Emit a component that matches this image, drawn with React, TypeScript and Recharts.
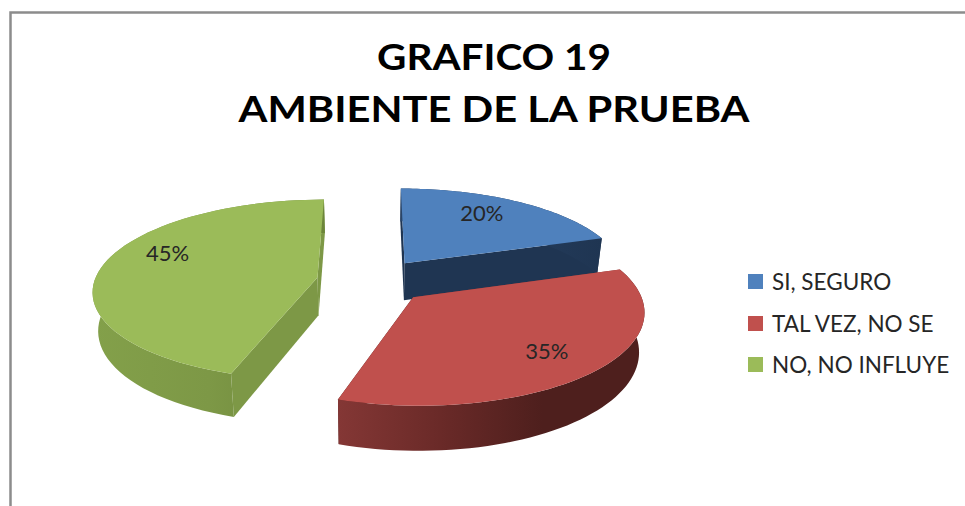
import React from 'react';
import { PieChart, Pie, Legend } from 'recharts';

const categories = ['SI, SEGURO', 'TAL VEZ, NO SE', 'NO, NO INFLUYE'];
const percents = [20, 35, 45];
const colors = ['#4f81bd', '#c0504d', '#9bbb59'];
const titleLines = ['GRAFICO 19', 'AMBIENTE DE LA PRUEBA'];

const data = categories.map((name, i) => ({ name, value: percents[i], fill: colors[i] }));

const FONT = 'Lato, "Open Sans", sans-serif';
const TILT = 0.4;
const PERSPECTIVE = 0.0006;
const EXPLODE = 56;
const DEPTH = 38;
const BOTTOM_SHRINK = 0.98;
const RAD = Math.PI / 180;

// side colours for each slice: outer wall gradient, flat cut faces
const wallStops = [
  ['#2a4568', '#1f3552'],
  ['#843735', '#6a2a28', '#4e1f1d', '#4e1f1d'],
  ['#83a04a', '#7d9846', '#6c853a'],
];
const cutColors = [
  ['#1f3552', '#1f3552'],
  ['#843735', '#4e1f1d'],
  ['#7d9846', '#7d9846'],
];
// nudge of the percent labels on screen
const labelNudge = [
  [-9, -3],
  [0, 0],
  [11, -15],
];

// ground plane point to screen, with the slice pushed out along its mid angle
const project = (cx: number, cy: number, mid: number, r: number, a: number) => {
  const X = EXPLODE * Math.cos(mid * RAD) + r * Math.cos(a * RAD);
  const Y = EXPLODE * Math.sin(mid * RAD) + r * Math.sin(a * RAD);
  const f = 1 / (1 + PERSPECTIVE * Y);
  return { x: cx + X * f, y: cy - Y * TILT * f, d: DEPTH * f };
};

const Slice3D = (props: any) => {
  const { cx, cy, outerRadius, startAngle, endAngle, fill, index } = props;
  const mid = (startAngle + endAngle) / 2;
  const apex = project(cx, cy, mid, 0, mid);
  const arc: { x: number; y: number; d: number }[] = [];
  const steps = 60;
  for (let i = 0; i <= steps; i++) {
    arc.push(project(cx, cy, mid, outerRadius, startAngle + ((endAngle - startAngle) * i) / steps));
  }
  const pts = (list: { x: number; y: number }[]) => list.map((p) => `${p.x},${p.y}`).join(' ');
  const down = (p: any) => ({ x: cx + (p.x - cx) * BOTTOM_SHRINK, y: p.y + p.d });
  const first = arc[0];
  const last = arc[arc.length - 1];
  const quad = (a: any, b: any) => pts([a, b, down(b), down(a)]);
  const lower = arc.map(down).reverse();
  const gradId = `wall-${index}`;
  const stops = wallStops[index] || wallStops[0];
  const cuts = cutColors[index] || cutColors[0];
  return (
    <g>
      <defs>
        <linearGradient id={gradId} x1="0" y1="0" x2="1" y2="0">
          {stops.map((c, i) => (
            <stop key={i} offset={i / (stops.length - 1)} stopColor={c} />
          ))}
        </linearGradient>
      </defs>
      <polygon points={quad(apex, first)} fill={cuts[0]} />
      <polygon points={quad(apex, last)} fill={cuts[1]} />
      <polygon points={pts([...arc, ...lower])} fill={`url(#${gradId})`} />
      <polygon points={pts([apex, ...arc])} fill={fill} />
    </g>
  );
};

const renderLabel = (props: any) => {
  const { cx, cy, midAngle, outerRadius, value, index } = props;
  const p = project(cx, cy, midAngle, outerRadius * 0.75, midAngle);
  const nudge = labelNudge[index] || [0, 0];
  return (
    <text x={p.x + nudge[0]} y={p.y + nudge[1]} textAnchor="middle" dominantBaseline="central" fontFamily={FONT} fontSize={22} fill="#262626">
      {value}%
    </text>
  );
};

const renderLegend = (props: any) => (
  <div style={{ fontFamily: FONT, fontSize: 22.5, color: '#262626' }}>
    {(props.payload || []).map((entry: any) => (
      <div key={entry.value} style={{ display: 'flex', alignItems: 'center', height: 41.5 }}>
        <span style={{ width: 15, height: 15, background: entry.color, marginRight: 9 }} />
        <span>{entry.value}</span>
      </div>
    ))}
  </div>
);

export default function App() {
  return (
    <div style={{ position: 'absolute', left: 0, top: 0, width: 965, height: 506, background: '#fff' }}>
      <PieChart width={965} height={506} margin={{ top: 0, right: 0, bottom: 0, left: 0 }}>
        <path d="M10.5 506 V12.5 H965" fill="none" stroke="#8c8c8c" strokeWidth={2.5} />
        <text x={494} y={70} textAnchor="middle" fontFamily={FONT} fontWeight={700} fontSize={36} fill="#000" textLength={234} lengthAdjust="spacingAndGlyphs">
          {titleLines[0]}
        </text>
        <text x={494} y={122} textAnchor="middle" fontFamily={FONT} fontWeight={700} fontSize={36} fill="#000" textLength={511} lengthAdjust="spacingAndGlyphs">
          {titleLines[1]}
        </text>
        <Pie
          data={data}
          dataKey="value"
          nameKey="name"
          cx={372.5}
          cy={281}
          outerRadius={223}
          startAngle={90}
          endAngle={-270}
          stroke="none"
          shape={Slice3D}
          label={renderLabel}
          labelLine={false}
          isAnimationActive={false}
        />
        <Legend
          content={renderLegend}
          itemSorter={null}
          layout="vertical"
          verticalAlign="top"
          align="right"
          wrapperStyle={{ left: 748, top: 261, width: 217 }}
        />
      </PieChart>
    </div>
  );
}
